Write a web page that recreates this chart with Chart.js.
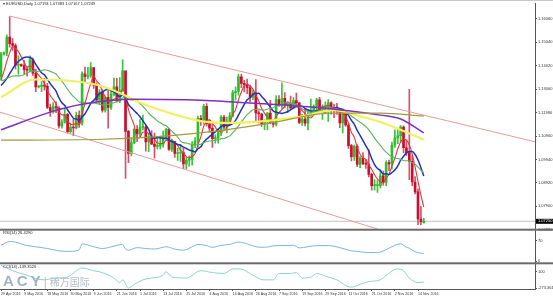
<!DOCTYPE html>
<html>
<head>
<meta charset="utf-8">
<title>EURUSD Daily</title>
<script src="https://cdn.jsdelivr.net/npm/chart.js@4.4.1/dist/chart.umd.min.js"></script>
<style>
  body { margin: 0; background: #fff; }
  #box { position: relative; width: 553px; height: 299px; overflow: hidden; }
  #chart { position: absolute; left: 0; top: 0; }
  .txt { position: absolute; font-family: "Liberation Sans", Arial, sans-serif; font-size: 4px; color: #222; white-space: nowrap; line-height: 4px; }
  #logo { position: absolute; left: 3px; top: 273px; line-height: 15px; font-family: "Liberation Sans", Arial, sans-serif; white-space: nowrap; color: #9fb2c6; }
  #logo b { font-size: 15px; letter-spacing: 3px; }
  #logo i { font-style: normal; font-size: 12px; color: #b7c0ca; margin: 0 3px 0 0; }
  #logo span { font-family: "Noto Sans CJK SC", sans-serif; font-size: 10px; color: #b5bcc4; }
</style>
</head>
<body>
<div id="box">
  <canvas id="chart" width="553" height="299"></canvas>
  <div class="txt" style="left:3px;top:2px">▾ EURUSD,Daily 1.07193 1.07383 1.07167 1.07249</div>
  <div class="txt" style="left:3px;top:231px">RSI(14) 26.4290</div>
  <div class="txt" style="left:3px;top:265px">CCI(14) -139.3520</div>
  <div id="logo"><b>ACY</b><i>|</i><span>稀万国际</span></div>
</div>
<script>
// EURUSD daily candles, 29 Apr 2016 .. 16 Nov 2016 (index 0..146, early May has Sunday bars)
const opens = [
  1.1354,1.1453,1.1458,1.1527,1.1498,1.1490,1.1404,1.1404,1.1402,1.1385,
  1.1383,1.1428,1.1370,1.1310,1.1312,1.1314,1.1313,1.1220,1.1204,1.1224,
  1.1218,1.1140,1.1156,1.1190,1.1115,1.1135,1.1131,1.1186,1.1152,1.1367,
  1.1355,1.1359,1.1394,1.1317,1.1252,1.1287,1.1208,1.1264,1.1220,1.1277,
  1.1310,1.1249,1.1293,1.1380,1.1116,1.1020,1.1067,1.1125,1.1105,1.1134,
  1.1135,1.1070,1.1092,1.1061,1.1051,1.1053,1.1061,1.1092,1.1125,1.1038,
  1.1072,1.1020,1.1021,1.1024,1.0975,1.0991,1.0994,1.1060,1.1074,1.1173,
  1.1160,1.1225,1.1150,1.1130,1.1085,1.1088,1.1108,1.1178,1.1135,1.1160,
  1.1184,1.1285,1.1290,1.1354,1.1325,1.1320,1.1307,1.1265,1.1283,1.1197,
  1.1192,1.1147,1.1157,1.1196,1.1155,1.1148,1.1255,1.1237,1.1260,1.1232,
  1.1235,1.1218,1.1250,1.1241,1.1155,1.1170,1.1152,1.1188,1.1208,1.1225,
  1.1253,1.1211,1.1221,1.1222,1.1241,1.1211,1.1205,1.1204,1.1153,1.1202,
  1.1144,1.1054,1.1006,1.1051,1.0972,1.1000,1.0975,1.0974,1.0929,1.0880,
  1.0880,1.0880,1.0923,1.0895,1.0980,1.0975,1.1056,1.1088,1.1098,1.1135,
  1.1045,1.1024,1.0986,1.0896,1.0853,1.0735,1.0719
];
const highs = [
  1.1460,1.1462,1.1536,1.1616,1.1520,1.1497,1.1445,1.1410,1.1424,1.1397,
  1.1445,1.1435,1.1387,1.1316,1.1333,1.1347,1.1325,1.1235,1.1242,1.1245,
  1.1224,1.1168,1.1216,1.1195,1.1152,1.1170,1.1200,1.1206,1.1375,1.1396,
  1.1395,1.1416,1.1394,1.1327,1.1298,1.1298,1.1268,1.1298,1.1290,1.1348,
  1.1347,1.1350,1.1428,1.1380,1.1121,1.1088,1.1128,1.1142,1.1168,1.1187,
  1.1143,1.1108,1.1120,1.1109,1.1089,1.1096,1.1117,1.1130,1.1130,1.1083,
  1.1072,1.1044,1.1059,1.1042,1.1002,1.1010,1.1072,1.1089,1.1183,1.1186,
  1.1234,1.1237,1.1163,1.1158,1.1101,1.1128,1.1185,1.1186,1.1178,1.1198,
  1.1295,1.1310,1.1366,1.1366,1.1338,1.1344,1.1318,1.1296,1.1342,1.1207,
  1.1196,1.1167,1.1198,1.1251,1.1166,1.1271,1.1272,1.1327,1.1285,1.1246,
  1.1270,1.1263,1.1283,1.1242,1.1190,1.1213,1.1210,1.1257,1.1232,1.1260,
  1.1264,1.1232,1.1245,1.1255,1.1245,1.1234,1.1238,1.1210,1.1195,1.1205,
  1.1151,1.1060,1.1057,1.1059,1.1007,1.1024,1.0994,1.1037,1.0935,1.0906,
  1.0902,1.0945,1.0944,1.0988,1.0991,1.1070,1.1123,1.1126,1.1142,1.1140,
  1.1078,1.1299,1.1010,1.0920,1.0866,1.0790,1.0738
];
const lows = [
  1.1340,1.1448,1.1446,1.1483,1.1468,1.1388,1.1365,1.1398,1.1366,1.1357,
  1.1375,1.1360,1.1289,1.1305,1.1289,1.1296,1.1215,1.1181,1.1196,1.1198,
  1.1130,1.1130,1.1152,1.1108,1.1108,1.1098,1.1127,1.1133,1.1143,1.1332,
  1.1345,1.1351,1.1303,1.1243,1.1232,1.1200,1.1200,1.1130,1.1212,1.1270,
  1.1243,1.1241,1.1290,1.0912,1.0980,1.1010,1.1063,1.1072,1.1093,1.1123,
  1.1030,1.1028,1.1058,1.1000,1.1040,1.1040,1.1048,1.1076,1.1033,1.1029,
  1.1003,1.0990,1.0986,1.0954,1.0952,1.0965,1.0969,1.1045,1.1049,1.1142,
  1.1148,1.1140,1.1112,1.1046,1.1065,1.1065,1.1098,1.1125,1.1109,1.1140,
  1.1180,1.1252,1.1274,1.1306,1.1288,1.1280,1.1246,1.1254,1.1161,1.1153,
  1.1138,1.1124,1.1124,1.1149,1.1135,1.1140,1.1225,1.1216,1.1218,1.1198,
  1.1210,1.1214,1.1228,1.1150,1.1142,1.1140,1.1123,1.1181,1.1190,1.1199,
  1.1199,1.1168,1.1200,1.1160,1.1191,1.1176,1.1190,1.1132,1.1110,1.1138,
  1.1042,1.0988,1.0990,1.0963,1.0958,1.0972,1.0955,1.0918,1.0860,1.0860,
  1.0851,1.0870,1.0882,1.0880,1.0945,1.0953,1.1046,1.1063,1.1068,1.1022,
  1.1012,1.0906,1.0880,1.0844,1.0710,1.0710,1.0717
];
const closes = [
  1.1453,1.1458,1.1527,1.1498,1.1490,1.1404,1.1404,1.1402,1.1385,1.1383,
  1.1428,1.1370,1.1310,1.1312,1.1314,1.1313,1.1220,1.1204,1.1224,1.1218,
  1.1140,1.1156,1.1190,1.1115,1.1135,1.1131,1.1186,1.1152,1.1367,1.1355,
  1.1359,1.1394,1.1317,1.1252,1.1287,1.1208,1.1264,1.1220,1.1277,1.1310,
  1.1249,1.1293,1.1380,1.1116,1.1020,1.1067,1.1125,1.1105,1.1134,1.1135,
  1.1070,1.1092,1.1061,1.1051,1.1053,1.1061,1.1092,1.1125,1.1038,1.1072,
  1.1020,1.1021,1.1024,1.0975,1.0991,1.0994,1.1060,1.1074,1.1173,1.1160,
  1.1225,1.1150,1.1130,1.1085,1.1088,1.1108,1.1178,1.1135,1.1160,1.1184,
  1.1285,1.1290,1.1354,1.1325,1.1320,1.1307,1.1265,1.1283,1.1197,1.1192,
  1.1147,1.1157,1.1196,1.1155,1.1148,1.1255,1.1237,1.1260,1.1232,1.1235,
  1.1218,1.1250,1.1241,1.1155,1.1170,1.1152,1.1188,1.1208,1.1225,1.1253,
  1.1211,1.1221,1.1222,1.1241,1.1211,1.1205,1.1204,1.1153,1.1202,1.1144,
  1.1054,1.1006,1.1051,1.0972,1.1000,1.0975,1.0974,1.0929,1.0880,1.0880,
  1.0880,1.0923,1.0895,1.0980,1.0975,1.1056,1.1088,1.1098,1.1135,1.1045,
  1.1024,1.0986,1.0896,1.0853,1.0735,1.0723,1.0725
];
// closes before the first visible bar (needed for the short moving averages)
const priorCloses = [1.1393,1.1384,1.1404,1.1378,1.1400,1.1405,1.1388,1.1272,1.1268,1.1285,
  1.1316,1.1356,1.1292,1.1280,1.1224,1.1266,1.1298,1.1318,1.1354];

// slow moving averages (bar index, price)
const ma50Idx = [0,12,34,52,69,79,103,115,121,131,146];
const ma50Val = [1.1265,1.1342,1.1316,1.1222,1.1161,1.1153,1.1179,1.1209,1.1192,1.1157,1.1080];
const ma100Idx = [0,17,28,46,69,92,115,131,138,146];
const ma100Val = [1.1123,1.1200,1.1234,1.1256,1.1252,1.1235,1.1213,1.1187,1.1170,1.1110];
const ma200Idx = [0,35,69,92,114,131,146];
const ma200Val = [1.1078,1.1082,1.1110,1.1150,1.1196,1.1196,1.1183];

// trend channel end points (bar index, price)
const chanUpper = [[3,1.1618],[184.4,1.1071]];
const chanLower = [[-0.35,1.1200],[130.9,1.0688]];

const rsiIdx = [0,3,5,8,12,16,20,24,27,28,32,35,39,42,43,44,47,50,53,57,60,63,66,68,71,73,76,79,82,85,
  88,91,95,98,101,103,106,109,113,117,121,123,127,130,133,136,138,140,141,143,146];
const rsiVal = [55,68,66,56,50,44,36,34,40,60,50,44,52,58,42,38,47,44,42,50,42,38,50,58,54,48,55,58,66,60,
  50,48,54,54,55,46,50,54,54,47,36,34,30,30,40,55,60,48,45,33,26.4];
const cciIdx = [0,4,9,14.5,19,23,26,28,32,35,39,41,42,44,46,49,52,56,57,59,64,69,73,77,80,82.5,87,90.5,94,96,
  100,102,104,107,109,113,116,119.5,121,124,127,131,133,137,139,141,144,146];
const cciVal = [241,118,15,-88,-47,-27,118,180,118,76,-47,-150,-88,-273,-191,-88,-47,15,97,-27,-47,118,76,56,159,159,15,-88,-88,56,
  56,76,-47,-27,56,-27,-88,-232,-253,-191,-130,-88,15,159,118,-47,-150,-139];

// axis labels
const priceTicks = [1.06880,1.07390,1.07900,1.08410,1.08920,1.09430,1.09940,1.10450,1.10960,1.11470,
  1.11980,1.12490,1.13000,1.13510,1.14020,1.14530,1.15040,1.15550,1.16060,1.16570];
const rsiTicks = [0,30,70,100];
const cciTicks = [-273.3614,-100,0,100,241.3009];
const dateIdx = [0,8,16,24,32,40,48,56,64,72,80,88,96,104,112,120,128,136,144];
const dateLabels = ['29 Apr 2016','9 May 2016','18 May 2016','30 May 2016','9 Jun 2016','21 Jun 2016',
  '1 Jul 2016','13 Jul 2016','25 Jul 2016','4 Aug 2016','16 Aug 2016','26 Aug 2016','7 Sep 2016',
  '19 Sep 2016','29 Sep 2016','11 Oct 2016','21 Oct 2016','2 Nov 2016','14 Nov 2016'];

const xMin = -0.35, xMax = 184.4;
const FONT = 'Liberation Sans';

function pts(idx, val) { return idx.map((x, i) => ({x: x, y: val[i]})); }
function sma(n) {
  const all = priorCloses.concat(closes);
  const off = priorCloses.length;
  return closes.map((c, i) => {
    let s = 0;
    for (let k = i + off - n + 1; k <= i + off; k++) s += all[k];
    return {x: i, y: s / n};
  });
}
const up = i => closes[i] >= opens[i];

function line(data, color, width, axis, order) {
  return {type: 'line', data: data, yAxisID: axis || 'y', borderColor: color, borderWidth: width,
    pointRadius: 0, tension: 0.35, cubicInterpolationMode: 'monotone', order: order || 1};
}

// clip every dataset to its own pane
const paneClip = {
  id: 'paneClip',
  beforeDatasetDraw(chart, args) {
    const ys = chart.scales[chart.data.datasets[args.index].yAxisID];
    const a = chart.chartArea;
    chart.ctx.save();
    chart.ctx.beginPath();
    chart.ctx.rect(a.left, ys.top, a.right - a.left, ys.bottom - ys.top);
    chart.ctx.clip();
  },
  afterDatasetDraw(chart) { chart.ctx.restore(); }
};

const frame = {
  id: 'frame',
  afterDraw(chart) {
    const c = chart.ctx;
    c.save();
    c.fillStyle = '#c8c8c8';
    c.fillRect(0, 0, 553, 1);
    c.fillStyle = '#6a6a6a';
    c.fillRect(0, chart.scales.y.bottom - 1, 553, 2);
    c.fillRect(0, chart.scales.rsi.bottom - 1, 553, 2);
    // current price box
    const last = closes[closes.length - 1];
    const py = chart.scales.y.getPixelForValue(last);
    c.fillStyle = '#000';
    c.fillRect(chart.chartArea.right + 1, py - 2.5, 17, 5);
    c.fillStyle = '#fff';
    c.font = '4px ' + FONT;
    c.textBaseline = 'middle';
    c.fillText(last.toFixed(5), chart.chartArea.right + 3, py);
    c.restore();
  }
};

function yAxis(weight, stackWeight, min, max, ticks, fmt) {
  return {
    type: 'linear', position: 'right', stack: 'panes', weight: weight, stackWeight: stackWeight,
    min: min, max: max,
    afterFit(s) { s.width = 18; },
    afterBuildTicks(s) { s.ticks = ticks.map(v => ({value: v})); },
    ticks: {font: {size: 4, family: FONT}, color: '#333', padding: 1, callback: fmt},
    grid: {drawOnChartArea: false, tickLength: 2, color: '#555'},
    border: {color: '#555'}
  };
}

const chartCtx = document.getElementById('chart').getContext('2d');
new Chart(chartCtx, {
  type: 'bar',
  data: {
    datasets: [
      line(chanUpper.map(p => ({x: p[0], y: p[1]})), '#e79b9b', 1, 'y', 2),
      line(chanLower.map(p => ({x: p[0], y: p[1]})), '#e79b9b', 1, 'y', 2),
      line([{x: xMin, y: closes[closes.length - 1]}, {x: xMax, y: closes[closes.length - 1]}], '#c4c4c4', 1, 'y', 9),
      line(pts(ma200Idx, ma200Val), '#a39a3c', 1.2),
      line(pts(ma100Idx, ma100Val), '#7d2fc0', 1.5),
      line(pts(ma50Idx, ma50Val), '#f2f05e', 2.2),
      line(sma(20), '#5cb25c', 1.1),
      line(sma(10), '#2233bb', 1.5),
      line(sma(5), '#e03a3a', 1.1),
      {type: 'bar', order: 6, yAxisID: 'y', grouped: false, barThickness: 1,
       data: highs.map((h, i) => ({x: i, y: [lows[i], h]})),
       backgroundColor: highs.map((h, i) => up(i) ? '#39c439' : '#d8506a')},
      {type: 'bar', order: 5, yAxisID: 'y', grouped: false, barThickness: 2, minBarLength: 1,
       data: opens.map((o, i) => ({x: i, y: [o, closes[i]]})),
       backgroundColor: opens.map((o, i) => up(i) ? '#2fbe2f' : '#c8102e')},
      line(pts(rsiIdx, rsiVal), '#79b4e6', 1, 'rsi'),
      line(pts(cciIdx, cciVal), '#8fd3c6', 1, 'cci')
    ]
  },
  options: {
    responsive: false,
    animation: false,
    devicePixelRatio: 1,
    layout: {padding: 0},
    plugins: {legend: {display: false}, tooltip: {enabled: false}},
    scales: {
      x: {
        type: 'linear', position: 'bottom', min: xMin, max: xMax, offset: false,
        afterFit(s) { s.height = 10; },
        afterBuildTicks(s) { s.ticks = dateIdx.map(v => ({value: v})); },
        ticks: {autoSkip: false, maxRotation: 0, align: 'start', padding: 1, color: '#333',
                font: {size: 3.6, family: FONT}, callback: v => dateLabels[dateIdx.indexOf(v)]},
        grid: {drawOnChartArea: false, offset: false, tickLength: 2, color: '#555'},
        border: {color: '#555'}
      },
      y: yAxis(0, 229, 1.06884, 1.16731, priceTicks, v => v.toFixed(5)),
      rsi: yAxis(1, 34, -6.8, 108.5, rsiTicks, v => String(v)),
      cci: yAxis(2, 26, -296, 286, cciTicks, v => v === 0 ? '0.00' : (Math.abs(v) === 100 ? String(v) : v.toFixed(4)))
    }
  },
  plugins: [paneClip, frame]
});
</script>
</body>
</html>
